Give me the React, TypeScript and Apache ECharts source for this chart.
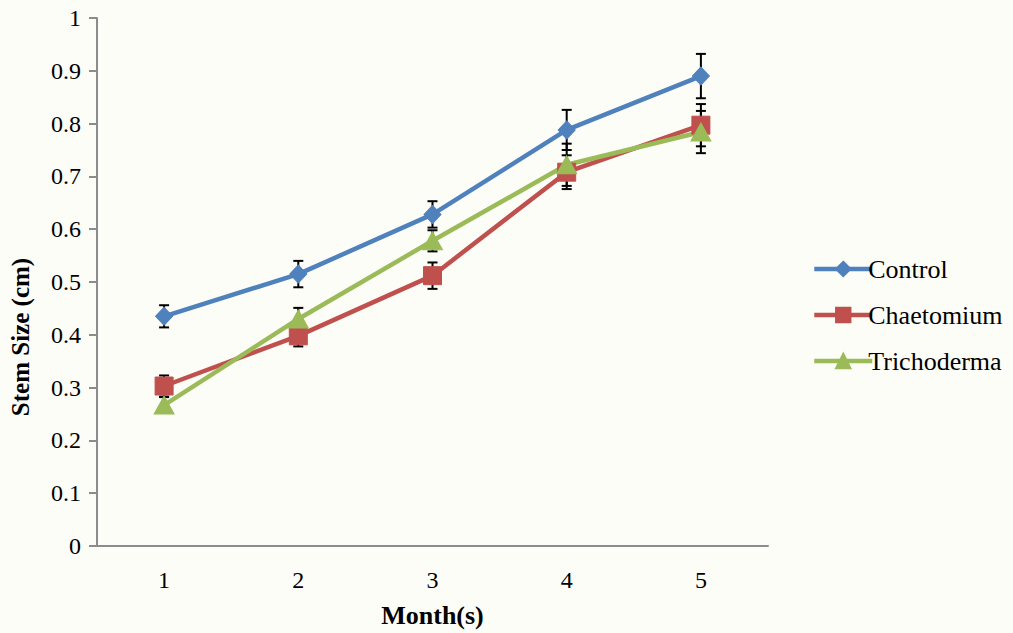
import React, { useEffect, useRef } from "react";
import * as echarts from "echarts";

const months = ["1", "2", "3", "4", "5"];
const seriesNames = ["Control", "Chaetomium", "Trichoderma"];
const controlValues = [0.435, 0.515, 0.628, 0.788, 0.89];
const controlErrors = [0.021, 0.025, 0.025, 0.038, 0.042];
const chaetomiumValues = [0.303, 0.398, 0.512, 0.708, 0.797];
const chaetomiumErrors = [0.02, 0.02, 0.025, 0.032, 0.04];
const trichodermaValues = [0.267, 0.43, 0.578, 0.722, 0.784];
const trichodermaErrors = [0.015, 0.021, 0.02, 0.04, 0.04];

const colors = ["#4F81BD", "#C0504D", "#9BBB59"];
const symbols = ["diamond", "rect", "triangle"];
const symbolSizes: any[] = [[17, 18], [18, 18], [20, 18]];
const FONT = "Times New Roman, Liberation Serif, serif";

function errorSeries(values: number[], errors: number[], z: number) {
  return {
    type: "custom",
    z,
    silent: true,
    data: values.map((v, i) => [i, v - errors[i], v + errors[i]]),
    renderItem: (params: any, api: any) => {
      const lo = api.coord([api.value(0), api.value(1)]);
      const hi = api.coord([api.value(0), api.value(2)]);
      const half = 5;
      const style = { stroke: "#000", lineWidth: 2 };
      return {
        type: "group",
        children: [
          { type: "line", shape: { x1: lo[0], y1: lo[1], x2: hi[0], y2: hi[1] }, style },
          { type: "line", shape: { x1: lo[0] - half, y1: lo[1], x2: lo[0] + half, y2: lo[1] }, style },
          { type: "line", shape: { x1: hi[0] - half, y1: hi[1], x2: hi[0] + half, y2: hi[1] }, style },
        ],
      };
    },
  };
}

export default function App() {
  const ref = useRef<HTMLDivElement>(null);

  useEffect(() => {
    if (!ref.current) return;
    const chart = echarts.init(ref.current, null, { renderer: "svg" });
    const valueSets = [controlValues, chaetomiumValues, trichodermaValues];
    const errorSets = [controlErrors, chaetomiumErrors, trichodermaErrors];

    const lines = seriesNames.map((name, k) => ({
      name,
      type: "line",
      z: 3,
      data: valueSets[k],
      symbol: symbols[k],
      symbolSize: symbolSizes[k],
      showAllSymbol: true,
      lineStyle: { color: colors[k], width: 4.5 },
      itemStyle: { color: colors[k], borderColor: colors[k], borderWidth: 1 },
      emphasis: { disabled: true },
    }));

    chart.setOption({
      animation: false,
      backgroundColor: "#fdfdf8",
      textStyle: { fontFamily: FONT },
      grid: { left: 94, top: 18, right: 245, bottom: 80, containLabel: false },
      legend: {
        orient: "vertical",
        left: 807,
        top: 251,
        itemWidth: 58,
        itemHeight: 18,
        itemGap: 20,
        data: seriesNames,
        lineStyle: { width: 4.5 },
        textStyle: { fontFamily: FONT, fontSize: 26, color: "#000", padding: [0, 0, 0, -9] },
      },
      xAxis: {
        type: "category",
        data: months,
        boundaryGap: true,
        name: "Month(s)",
        nameLocation: "middle",
        nameGap: 56,
        nameTextStyle: { fontFamily: FONT, fontSize: 26, fontWeight: "bold", color: "#000" },
        axisLine: { lineStyle: { color: "#8c8c8c", width: 2 } },
        axisTick: { show: false },
        axisLabel: { fontFamily: FONT, fontSize: 24, color: "#000", margin: 22 },
        splitLine: { show: false },
      },
      yAxis: {
        type: "value",
        min: 0,
        max: 1,
        interval: 0.1,
        name: "Stem Size (cm)",
        nameLocation: "middle",
        nameGap: 64,
        nameTextStyle: { fontFamily: FONT, fontSize: 25, fontWeight: "bold", color: "#000", padding: [0, 0, 0, -110] },
        axisLine: { show: true, lineStyle: { color: "#8c8c8c", width: 2 } },
        axisTick: { show: true, length: 8, lineStyle: { color: "#8c8c8c", width: 2 } },
        axisLabel: { fontFamily: FONT, fontSize: 24, color: "#000", margin: 16 },
        splitLine: { show: false },
      },
      series: [
        ...seriesNames.map((_, k) => errorSeries(valueSets[k], errorSets[k], 2)),
        ...lines,
      ],
    });

    return () => chart.dispose();
  }, []);

  return <div ref={ref} style={{ width: 1013, height: 633, position: "absolute", left: 0, top: 0 }} />;
}
